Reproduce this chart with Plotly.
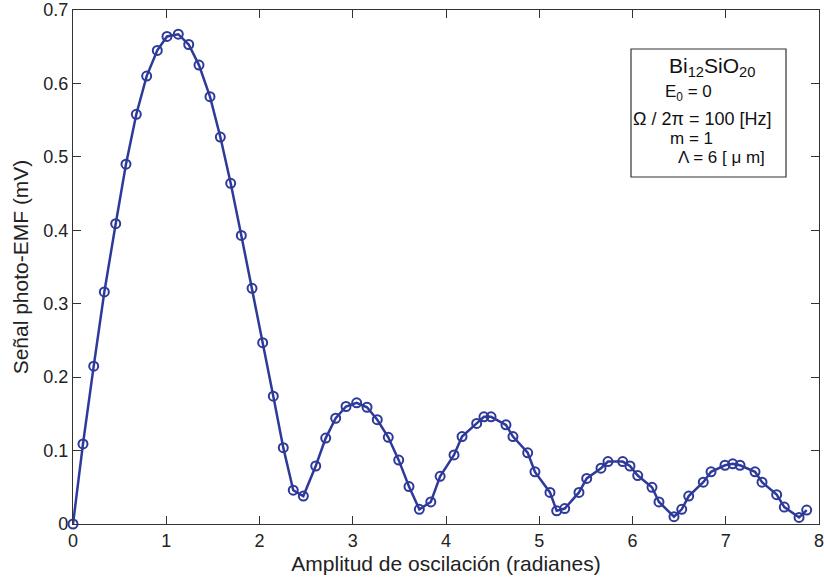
import plotly.graph_objects as go

amplitude = [0.0, 0.107, 0.222, 0.336, 0.458, 0.568, 0.679, 0.790, 0.904, 1.008,
             1.129, 1.241, 1.351, 1.469, 1.580, 1.691, 1.805, 1.920, 2.034, 2.148,
             2.255, 2.362, 2.470, 2.603, 2.710, 2.817, 2.928, 3.042, 3.153, 3.263,
             3.381, 3.493, 3.603, 3.714, 3.837, 3.937, 4.086, 4.172, 4.329, 4.407,
             4.483, 4.643, 4.718, 4.876, 4.954, 5.115, 5.187, 5.273, 5.426, 5.509,
             5.662, 5.737, 5.895, 5.973, 6.056, 6.209, 6.284, 6.445, 6.528, 6.603,
             6.759, 6.842, 6.992, 7.075, 7.153, 7.314, 7.389, 7.546, 7.628, 7.786,
             7.868]
signal = [0.0, 0.109, 0.215, 0.316, 0.409, 0.490, 0.558, 0.610, 0.645, 0.664,
          0.667, 0.653, 0.625, 0.582, 0.527, 0.464, 0.393, 0.321, 0.247, 0.174,
          0.104, 0.046, 0.038, 0.079, 0.117, 0.144, 0.160, 0.165, 0.159, 0.142,
          0.118, 0.087, 0.051, 0.020, 0.030, 0.065, 0.094, 0.119, 0.137, 0.146,
          0.146, 0.135, 0.119, 0.097, 0.071, 0.043, 0.018, 0.021, 0.043, 0.062,
          0.076, 0.085, 0.085, 0.079, 0.066, 0.050, 0.030, 0.010, 0.020, 0.038,
          0.057, 0.071, 0.080, 0.082, 0.080, 0.071, 0.057, 0.040, 0.023, 0.009,
          0.019]

x_ticks = [0, 1, 2, 3, 4, 5, 6, 7, 8]
y_ticks = [0, 0.1, 0.2, 0.3, 0.4, 0.5, 0.6, 0.7]
y_tick_labels = ["0", "0.1", "0.2", "0.3", "0.4", "0.5", "0.6", "0.7"]

box_lines = [
    "Bi<sub>12</sub>SiO<sub>20</sub>",
    "E<sub>0</sub> = 0",
    "Ω / 2π = 100 [Hz]",
    "m = 1",
    "Λ = 6 [ μ m]",
]

BLUE = "#2E3A9A"
FONT = "Liberation Sans, Arial, Helvetica, sans-serif"

fig = go.Figure()
fig.add_trace(go.Scatter(
    x=amplitude, y=signal, mode="lines+markers",
    line=dict(color=BLUE, width=2.5),
    marker=dict(symbol="circle-open", size=9, color=BLUE, line=dict(width=2, color=BLUE)),
    showlegend=False, cliponaxis=False,
))

W, H = 824, 582
ml, mr, mt, mb = 73, 5, 10, 58
pw, ph = W - ml - mr, H - mt - mb

def px(xp):
    return (xp - ml) / pw

def py(yp):
    return 1 - (yp - mt) / ph

# info box
fig.add_shape(type="rect", xref="paper", yref="paper",
              x0=px(631), x1=px(786), y0=py(177), y1=py(49),
              line=dict(color="#333333", width=1.2), fillcolor="white")

positions = [(712, 67, 21), (688, 93, 17), (702, 119, 18), (691, 138, 17), (721, 157, 17)]
for txt, (xc, yc, fs) in zip(box_lines, positions):
    fig.add_annotation(xref="paper", yref="paper", x=px(xc), y=py(yc),
                       text=txt, showarrow=False, xanchor="center", yanchor="middle",
                       font=dict(family=FONT, size=fs, color="#111"))

axis_common = dict(
    showgrid=False, zeroline=False, showline=True, linecolor="#333333", linewidth=1.2,
    mirror="ticks", ticks="inside", ticklen=8, tickcolor="#333333", tickwidth=1,
    tickfont=dict(family=FONT, size=18, color="#222"),
    ticklabeloverflow="allow",
)

fig.update_xaxes(range=[0, 8], tickvals=x_ticks,
                 title=dict(text="Amplitud de oscilación (radianes)", standoff=6,
                            font=dict(family=FONT, size=21, color="#222")),
                 **axis_common)
fig.update_yaxes(range=[0, 0.7], tickvals=y_ticks, ticktext=y_tick_labels,
                 title=dict(text="Señal photo-EMF (mV)", standoff=8,
                            font=dict(family=FONT, size=21, color="#222")),
                 **axis_common)

fig.update_layout(
    width=W, height=H,
    margin=dict(l=ml, r=mr, t=mt, b=mb, autoexpand=False),
    plot_bgcolor="white", paper_bgcolor="white",
    font=dict(family=FONT),
)

fig.write_html("out.html")
